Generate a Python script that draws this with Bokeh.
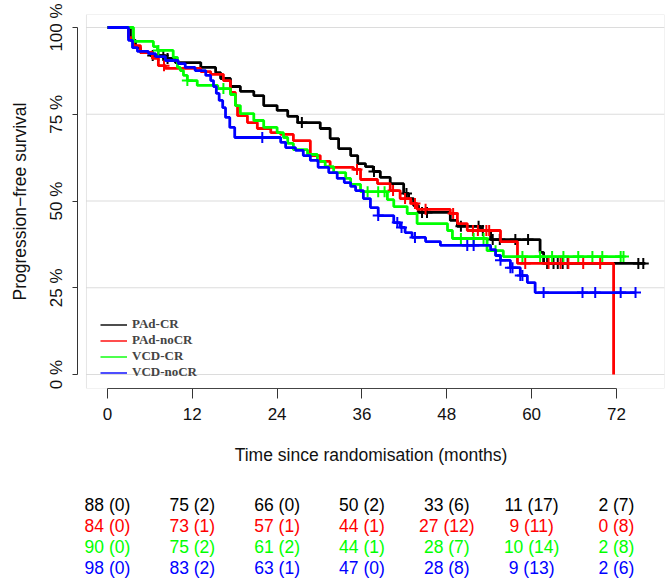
import numpy as np
from bokeh.plotting import figure
from bokeh.models import Range1d, FixedTicker, BoxAnnotation, Legend, LegendItem
from bokeh.layouts import column
from bokeh.embed import file_html
from bokeh.resources import INLINE
from bokeh.core.properties import value

# ---------------- data ----------------
groups = ["PAd-CR", "PAd-noCR", "VCD-CR", "VCD-noCR"]
colors = ["#000000", "#FF0000", "#00FF00", "#0000FF"]

pad_cr_time = [0, 3.25, 3.96, 4.67, 6.08, 8.2, 9.6, 13.2, 15.3, 16.0, 17.4, 18.8, 20.7, 22.1, 24.0,
               25.5, 26.9, 30.1, 31.5, 32.7, 34.4, 35.4, 36.5, 37.6, 38.6, 40.0, 41.9, 42.6, 43.3,
               44.0, 48.5, 49.5, 52.8, 54.2, 61.2, 61.7, 76.1]
pad_cr_surv = [100, 96.3, 94.2, 92.8, 91.9, 91.1, 89.9, 88.5, 87.0, 85.3, 83.0, 81.6, 80.4, 77.5,
               76.1, 74.4, 72.6, 70.9, 68.0, 65.1, 63.1, 60.8, 59.9, 58.5, 56.8, 55.0, 52.2, 50.7,
               48.7, 46.7, 44.4, 42.7, 41.5, 38.9, 35.2, 32.0, 32.0]
pad_cr_cens = [6.4, 7.2, 7.9, 8.5, 27.5, 37.7, 42.3, 44.5, 45.2, 50.0, 52.5, 53.1, 54.5, 55.5,
               57.7, 59.5, 62.2, 63.1, 63.7, 64.4, 65.1, 75.1, 75.8]

pad_nocr_time = [0, 2.97, 3.68, 4.67, 6.36, 7.2, 8.2, 13.2, 14.6, 16.4, 17.4, 18.1, 18.4, 19.8,
                 21.2, 23.1, 24.5, 26.3, 28.7, 30.1, 31.5, 34.8, 35.8, 38.2, 40.0, 41.4, 42.9,
                 43.8, 48.5, 49.5, 50.9, 55.6, 58.0, 71.6]
pad_nocr_surv = [100, 97.1, 94.8, 92.8, 91.1, 89.0, 88.2, 87.3, 86.5, 84.7, 81.3, 77.5, 74.6,
                 72.6, 70.9, 69.7, 69.2, 67.4, 63.1, 61.4, 59.7, 59.1, 56.2, 55.0, 53.0, 50.7,
                 49.3, 47.6, 46.4, 43.5, 41.5, 38.3, 32.0, 0]
pad_nocr_cens = [8.0, 35.3, 40.4, 42.1, 43.5, 45.0, 48.9, 51.7, 52.4, 53.6, 54.0, 59.1, 62.4,
                 64.1, 65.2, 67.3, 69.7]

vcd_cr_time = [0, 3.68, 6.5, 7.07, 9.3, 9.9, 10.3, 10.75, 11.3, 12.7, 15.6, 17.4, 18.1, 18.8,
               20.7, 22.1, 24.0, 24.9, 25.5, 26.3, 28.3, 29.7, 30.8, 32.0, 33.7, 34.4, 35.8,
               39.6, 40.5, 42.4, 43.8, 48.1, 48.8, 53.7, 56.0, 73.0]
vcd_cr_surv = [100, 96.0, 94.5, 93.4, 91.4, 88.5, 87.6, 86.2, 84.7, 83.3, 82.4, 80.7, 77.5, 75.2,
               73.2, 71.2, 69.7, 68.3, 66.6, 64.8, 63.4, 61.4, 59.9, 58.2, 56.5, 54.8, 52.7,
               50.4, 48.4, 46.4, 43.5, 41.5, 39.2, 35.7, 34.0, 34.0]
vcd_cr_cens = [7.2, 11.3, 16.4, 36.8, 38.3, 39.2, 50.0, 51.8, 53.2, 54.9, 58.7, 61.2, 62.9, 64.5,
               66.6, 68.6, 70.0, 72.6, 73.0]

vcd_nocr_time = [0, 2.97, 3.54, 4.24, 5.8, 6.8, 8.2, 10.0, 11.0, 12.4, 13.9, 14.6, 15.0, 15.4,
                 15.8, 16.3, 16.7, 17.3, 18.0, 24.5, 25.2, 26.6, 27.7, 28.7, 29.8, 31.3, 32.5,
                 33.5, 34.4, 35.1, 36.2, 37.2, 38.3, 40.5, 41.4, 42.1, 43.1, 45.0, 47.1, 54.2,
                 54.9, 55.6, 57.0, 58.4, 59.4, 60.5, 74.7]
vcd_nocr_surv = [100, 96.3, 94.2, 93.1, 92.5, 91.6, 90.5, 89.6, 88.5, 87.6, 86.2, 84.7, 83.0,
                 81.0, 79.0, 76.9, 74.1, 71.2, 68.3, 66.9, 65.4, 64.6, 63.1, 61.7, 59.7, 58.2,
                 56.5, 55.3, 54.2, 53.0, 50.7, 48.1, 45.8, 43.8, 42.4, 40.9, 39.5, 38.3, 37.2,
                 36.0, 34.3, 32.9, 30.8, 28.5, 26.5, 23.6, 23.6]
vcd_nocr_cens = [21.9, 38.3, 41.0, 41.6, 43.5, 50.9, 51.8, 55.6, 57.0, 57.3, 58.4, 58.7, 61.7,
                 67.2, 69.0, 72.6, 74.7]

# numbers at risk (censored) table
risk_times = [0, 12, 24, 36, 48, 60, 72]
pad_cr_risk = [88, 75, 66, 50, 33, 11, 2]
pad_cr_rc = [0, 2, 0, 2, 6, 17, 7]
pad_nocr_risk = [84, 73, 57, 44, 27, 9, 0]
pad_nocr_rc = [0, 1, 1, 1, 12, 11, 8]
vcd_cr_risk = [90, 75, 61, 44, 28, 10, 2]
vcd_cr_rc = [0, 2, 2, 1, 7, 14, 8]
vcd_nocr_risk = [98, 83, 63, 47, 28, 9, 2]
vcd_nocr_rc = [0, 2, 1, 0, 8, 13, 6]

x_ticks = [0, 12, 24, 36, 48, 60, 72]
y_ticks = [0, 25, 50, 75, 100]

curves = [
    (pad_cr_time, pad_cr_surv, pad_cr_cens),
    (pad_nocr_time, pad_nocr_surv, pad_nocr_cens),
    (vcd_cr_time, vcd_cr_surv, vcd_cr_cens),
    (vcd_nocr_time, vcd_nocr_surv, vcd_nocr_cens),
]
risks = [
    (pad_cr_risk, pad_cr_rc),
    (pad_nocr_risk, pad_nocr_rc),
    (vcd_cr_risk, vcd_cr_rc),
    (vcd_nocr_risk, vcd_nocr_rc),
]

FONT = "Liberation Sans"

# ---------------- main plot ----------------
xr = Range1d(-4.24, 78.8)
yr = Range1d(-4.03, 103.75)
box_left = -2.97

p = figure(width=669, height=480, x_range=xr, y_range=yr, output_backend="svg",
           toolbar_location=None, min_border_left=77, min_border_right=5,
           min_border_top=14, min_border_bottom=92)
p.outline_line_color = None
p.xgrid.visible = False
p.ygrid.visible = False
p.background_fill_color = "white"

# horizontal reference lines inside the box
p.segment(x0=[box_left] * len(y_ticks), x1=[xr.end] * len(y_ticks), y0=y_ticks, y1=y_ticks,
          line_color="#DCDCDC", line_width=1.2, level="underlay")

p.add_layout(BoxAnnotation(left=box_left, right=xr.end, top=yr.end, bottom=yr.start,
                           fill_alpha=0, line_color="#A8A8A8", line_width=1))

for (t, s, c), col in zip(curves, colors):
    p.step(x=t, y=s, mode="after", line_color=col, line_width=2.8)
    t_arr = np.array(t)
    s_arr = np.array(s)
    idx = np.searchsorted(t_arr, np.array(c), side="right") - 1
    p.scatter(x=c, y=s_arr[idx], marker="cross", size=11, line_color=col, line_width=2)

# axes
xa = p.xaxis[0]
xa.ticker = FixedTicker(ticks=x_ticks)
xa.bounds = (0, 72)
xa.axis_label = "Time since randomisation (months)"
ya = p.yaxis[0]
ya.ticker = FixedTicker(ticks=y_ticks)
ya.bounds = (0, 100)
ya.major_label_overrides = {v: f"{v} %" for v in y_ticks}
ya.major_label_orientation = "vertical"
ya.axis_label = "Progression\u2212free survival"

for ax in (xa, ya):
    ax.axis_line_color = "#333333"
    ax.axis_line_width = 1
    ax.major_tick_line_color = "#333333"
    ax.minor_tick_line_color = None
    ax.major_tick_in = 0
    ax.major_label_text_font = FONT
    ax.major_label_text_font_size = "17px"
    ax.major_label_text_color = "#111111"
    ax.axis_label_text_font = FONT
    ax.axis_label_text_font_size = "17.5px"
    ax.axis_label_text_font_style = "normal"
    ax.axis_label_text_color = "#111111"

xa.major_tick_out = 10
xa.major_label_standoff = 9
xa.axis_label_standoff = 22
ya.major_tick_out = 5
ya.major_label_standoff = 6
ya.axis_label_standoff = 15

# legend (thin lines, bold serif text)
items = []
for g, col in zip(groups, colors):
    r = p.line(x=[np.nan], y=[np.nan], line_color=col, line_width=1.4)
    items.append(LegendItem(label=g, renderers=[r]))
legend = Legend(items=items, location=(23, 8), padding=0, margin=0, spacing=0,
                glyph_width=27, glyph_height=13, label_height=13, label_standoff=5,
                label_text_font="Liberation Serif", label_text_font_style="bold",
                label_text_font_size="13px", label_text_line_height=1.0,
                border_line_alpha=0, background_fill_alpha=0)
p.add_layout(legend)

# ---------------- risk table ----------------
p2 = figure(width=669, height=100, x_range=xr, y_range=Range1d(3.568, -1.127),
            output_backend="svg", toolbar_location=None, x_axis_type=None, y_axis_type=None,
            min_border_left=77, min_border_right=5, min_border_top=0, min_border_bottom=0)
p2.outline_line_color = None
p2.xgrid.visible = False
p2.ygrid.visible = False

for i, ((n, c), col) in enumerate(zip(risks, colors)):
    labels = [f"{a} ({b})" for a, b in zip(n, c)]
    p2.text(x=risk_times, y=[i] * len(risk_times), text=labels, text_align="center",
            text_baseline="middle", text_color=col, text_font=value(FONT),
            text_font_size=value("17.5px"))

layout = column(p, p2, spacing=0)
open("out.html", "w").write(file_html(layout, INLINE))
